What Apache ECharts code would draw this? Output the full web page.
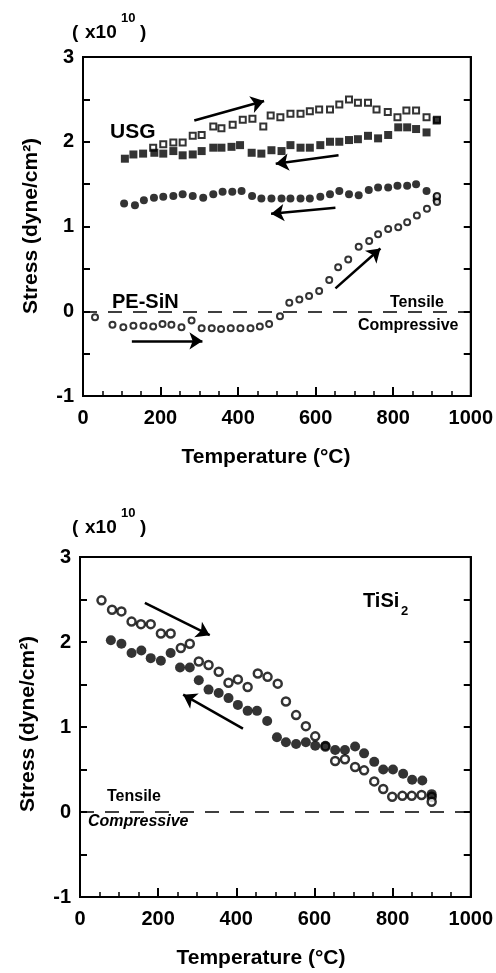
<!DOCTYPE html>
<html>
<head>
<meta charset="utf-8">
<script src="https://cdn.jsdelivr.net/npm/echarts@6/dist/echarts.min.js"></script>
<style>
html,body{margin:0;padding:0;background:#fff}
#main{width:496px;height:973px}
</style>
</head>
<body>
<div id="main"></div>
<script>
// top panel: USG and PE-SiN films
const usgHeatT = [181,207,233,257,283,306,336,357,386,412,437,465,484,509,535,561,585,609,637,661,686,709,735,757,786,811,834,859,886,913];
const usgHeatS = [1.93,1.97,1.99,1.99,2.07,2.08,2.18,2.16,2.20,2.26,2.27,2.18,2.31,2.29,2.33,2.33,2.36,2.38,2.38,2.44,2.50,2.46,2.46,2.38,2.35,2.29,2.37,2.37,2.29,2.26];
const usgCoolT = [108,130,155,184,207,233,257,283,306,336,357,383,405,435,460,486,512,535,561,585,612,637,661,686,709,735,761,787,813,836,859,886,912];
const usgCoolS = [1.80,1.85,1.86,1.87,1.86,1.89,1.84,1.85,1.89,1.93,1.93,1.94,1.96,1.87,1.86,1.90,1.89,1.96,1.93,1.93,1.96,2.00,2.00,2.02,2.03,2.07,2.04,2.08,2.17,2.17,2.15,2.11,2.25];
const sinCoolT = [106,134,157,183,207,233,257,283,310,336,360,385,409,436,460,486,512,535,561,585,612,637,661,686,711,737,761,787,811,836,859,886,912,912];
const sinCoolS = [1.27,1.25,1.31,1.34,1.35,1.36,1.38,1.36,1.34,1.38,1.41,1.41,1.42,1.36,1.33,1.33,1.33,1.33,1.33,1.33,1.35,1.38,1.42,1.38,1.37,1.43,1.46,1.46,1.48,1.48,1.50,1.42,1.35,1.31];
const sinHeatT = [31,76,104,130,156,181,205,228,254,280,306,332,356,381,406,432,456,480,508,532,558,583,609,635,658,684,711,738,761,787,813,836,861,887,913,913];
const sinHeatS = [-0.07,-0.16,-0.19,-0.17,-0.17,-0.18,-0.15,-0.16,-0.19,-0.11,-0.20,-0.20,-0.21,-0.20,-0.20,-0.20,-0.18,-0.15,-0.06,0.10,0.14,0.18,0.24,0.37,0.52,0.61,0.76,0.83,0.91,0.97,0.99,1.05,1.13,1.21,1.29,1.36];

// bottom panel: TiSi2
const tiHeatT = [55,82,106,132,156,181,207,232,258,281,304,329,355,380,404,429,455,480,506,527,553,578,602,628,653,678,704,727,753,776,799,825,849,874,900,900];
const tiHeatS = [2.49,2.38,2.36,2.24,2.21,2.21,2.10,2.10,1.93,1.98,1.77,1.73,1.65,1.52,1.56,1.47,1.63,1.59,1.51,1.30,1.14,1.01,0.89,0.77,0.60,0.62,0.53,0.49,0.36,0.27,0.18,0.19,0.19,0.20,0.18,0.12];
const tiCoolT = [79,106,132,157,181,207,232,256,281,304,329,355,380,404,429,453,479,504,527,553,578,602,628,653,678,704,727,753,776,801,827,850,876,900];
const tiCoolS = [2.02,1.98,1.87,1.90,1.81,1.78,1.87,1.70,1.70,1.55,1.44,1.40,1.34,1.26,1.19,1.19,1.07,0.88,0.82,0.80,0.82,0.78,0.78,0.73,0.73,0.77,0.69,0.59,0.50,0.50,0.45,0.38,0.37,0.21];

// arrows, in data units [T1,S1,T2,S2]
const topArrows = [[287,2.25,467,2.48],[659,1.84,497,1.74],[651,1.22,485,1.15],[651,0.27,767,0.74],[126,-0.35,308,-0.35]];
const botArrows = [[166,2.46,332,2.08],[417,0.98,264,1.38]];

const xTicks = [0,200,400,600,800,1000];
const yTicks = [-1,0,1,2,3];

const FONT = '"Liberation Sans", Arial, sans-serif';
const zip = (a, b) => a.map((v, i) => [v, b[i]]);

function xAx(gi) {
  return {
    type: 'value', gridIndex: gi, min: xTicks[0], max: xTicks[xTicks.length - 1], interval: 200,
    axisLine: {show: true, onZero: false, lineStyle: {color: '#000', width: 2}},
    axisTick: {inside: true, length: 9, lineStyle: {color: '#000', width: 2}},
    minorTick: {show: true, splitNumber: 4, length: 5, lineStyle: {color: '#000', width: 1.5}},
    axisLabel: {color: '#000', fontSize: 20, fontWeight: 'bold', fontFamily: FONT, margin: 12,
      formatter: v => String(v)},
    splitLine: {show: false}
  };
}
function yAx(gi, pos) {
  return {
    type: 'value', gridIndex: gi, position: pos, min: yTicks[0], max: yTicks[yTicks.length - 1], interval: 1,
    axisLine: {show: true, onZero: false, lineStyle: {color: '#000', width: 2}},
    axisTick: {inside: true, length: 7, lineStyle: {color: '#000', width: 2}},
    minorTick: {show: true, splitNumber: 2, length: 7, lineStyle: {color: '#000', width: 2}},
    axisLabel: {show: pos === 'left', color: '#000', fontSize: 20, fontWeight: 'bold', fontFamily: FONT, margin: 9},
    splitLine: {show: false}
  };
}
function zeroLine() {
  return {
    silent: true, symbol: 'none', label: {show: false},
    lineStyle: {color: '#000', width: 1.5, type: [14, 11]},
    data: [{yAxis: 0}]
  };
}
function arrows(list) {
  return {
    silent: true, symbol: ['none', 'arrow'], symbolSize: 13, label: {show: false},
    lineStyle: {color: '#000', width: 2.5, type: 'solid'},
    itemStyle: {color: '#000'},
    data: list.map(a => [{coord: [a[0], a[1]]}, {coord: [a[2], a[3]]}])
  };
}
const openStyle = {color: '#fff', borderColor: '#000', borderWidth: 2};
const fillStyle = {color: '#000'};

function txt(x, y, s, size, opts) {
  return {
    type: 'text', x: x, y: y,
    style: Object.assign({text: s, fill: '#000', font: 'bold ' + size + 'px ' + FONT, align: 'left', verticalAlign: 'middle'}, opts || {})
  };
}

const chart = echarts.init(document.getElementById('main'), null, {renderer: 'canvas'});
chart.setOption({
  animation: false,
  backgroundColor: '#fff',
  grid: [
    {left: 83, right: 23, top: 57, height: 339, show: true, borderColor: '#000', borderWidth: 2, backgroundColor: 'transparent'},
    {left: 80, right: 24, top: 557, height: 340, show: true, borderColor: '#000', borderWidth: 2, backgroundColor: 'transparent'}
  ],
  xAxis: [xAx(0), xAx(1)],
  yAxis: [yAx(0, 'left'), yAx(0, 'right'), yAx(1, 'left'), yAx(1, 'right')],
  series: [
    {name: 'USG heating', type: 'scatter', xAxisIndex: 0, yAxisIndex: 0, symbol: 'rect', symbolSize: 6,
      itemStyle: openStyle, data: zip(usgHeatT, usgHeatS), markLine: zeroLine()},
    {name: 'USG cooling', type: 'scatter', xAxisIndex: 0, yAxisIndex: 0, symbol: 'rect', symbolSize: 8,
      itemStyle: fillStyle, data: zip(usgCoolT, usgCoolS), markLine: arrows(topArrows)},
    {name: 'PE-SiN cooling', type: 'scatter', xAxisIndex: 0, yAxisIndex: 0, symbol: 'circle', symbolSize: 8,
      itemStyle: fillStyle, data: zip(sinCoolT, sinCoolS)},
    {name: 'PE-SiN heating', type: 'scatter', xAxisIndex: 0, yAxisIndex: 0, symbol: 'circle', symbolSize: 6,
      itemStyle: openStyle, data: zip(sinHeatT, sinHeatS)},
    {name: 'TiSi2 heating', type: 'scatter', xAxisIndex: 1, yAxisIndex: 2, symbol: 'circle', symbolSize: 8,
      itemStyle: {color: '#fff', borderColor: '#000', borderWidth: 2.5}, data: zip(tiHeatT, tiHeatS), markLine: zeroLine()},
    {name: 'TiSi2 cooling', type: 'scatter', xAxisIndex: 1, yAxisIndex: 2, symbol: 'circle', symbolSize: 10,
      itemStyle: fillStyle, data: zip(tiCoolT, tiCoolS), markLine: arrows(botArrows)}
  ],
  graphic: [
    // top panel texts
    txt(72, 33, '(', 19), txt(85, 33, 'x10', 19), txt(121, 18, '10', 13), txt(140, 33, ')', 19),
    {type: 'text', x: 31, y: 226, rotation: Math.PI / 2,
      style: {text: 'Stress (dyne/cm²)', fill: '#000', font: 'bold 21px ' + FONT, align: 'center', verticalAlign: 'middle'}},
    txt(266, 457, 'Temperature (°C)', 21, {align: 'center'}),
    txt(110, 132, 'USG', 21),
    txt(112, 302, 'PE-SiN', 20),
    txt(390, 303, 'Tensile', 16),
    txt(358, 326, 'Compressive', 16),
    // bottom panel texts
    txt(72, 528, '(', 19), txt(85, 528, 'x10', 19), txt(121, 513, '10', 13), txt(140, 528, ')', 19),
    {type: 'text', x: 28, y: 724, rotation: Math.PI / 2,
      style: {text: 'Stress (dyne/cm²)', fill: '#000', font: 'bold 21px ' + FONT, align: 'center', verticalAlign: 'middle'}},
    txt(261, 958, 'Temperature (°C)', 21, {align: 'center'}),
    txt(363, 601, 'TiSi', 20), txt(401, 611, '2', 13),
    txt(107, 797, 'Tensile', 16),
    txt(88, 822, 'Compressive', 16, {font: 'italic bold 16px ' + FONT})
  ]
});
window.addEventListener('resize', () => chart.resize());
</script>
</body>
</html>
